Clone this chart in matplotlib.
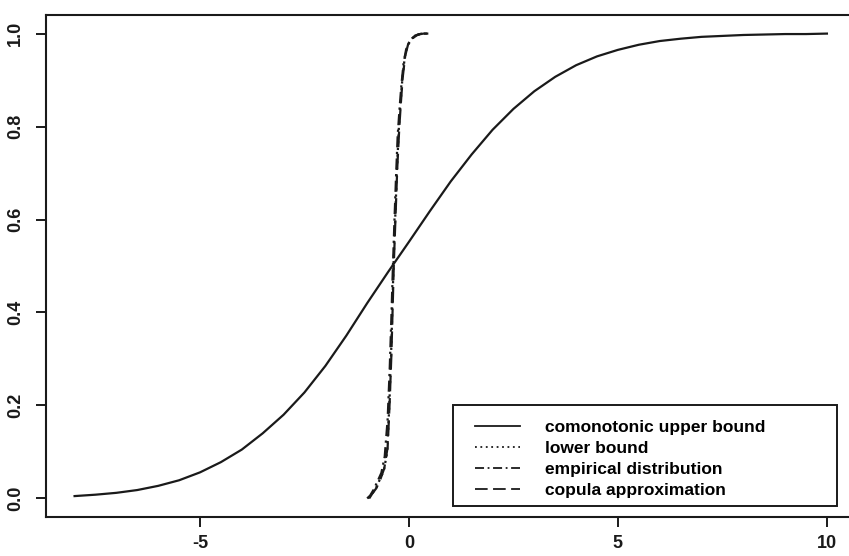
import matplotlib
matplotlib.use("Agg")
import matplotlib.pyplot as plt
from matplotlib.patches import Rectangle

# ── data ────────────────────────────────────────────────
# comonotonic upper bound (wide S-curve)
upper_x = [-8, -7.5, -7, -6.5, -6, -5.5, -5, -4.5, -4, -3.5, -3, -2.5, -2, -1.5,
           -1, -0.5, 0, 0.5, 1, 1.5, 2, 2.5, 3, 3.5, 4, 4.5, 5, 5.5, 6, 6.5,
           7, 7.5, 8, 8.5, 9, 9.5, 10]
upper_y = [0.005, 0.008, 0.012, 0.018, 0.027, 0.039, 0.056, 0.078, 0.105, 0.140,
           0.180, 0.228, 0.285, 0.350, 0.420, 0.487, 0.552, 0.618, 0.682, 0.740,
           0.793, 0.838, 0.876, 0.907, 0.932, 0.951, 0.965, 0.976, 0.984, 0.989,
           0.993, 0.995, 0.997, 0.998, 0.999, 0.999, 1.0]

# lower bound (steep)
lower_x = [-0.98, -0.9, -0.8, -0.7, -0.6, -0.52, -0.47, -0.43, -0.40, -0.37,
           -0.33, -0.29, -0.24, -0.20, -0.16, -0.10, -0.03, 0.08, 0.20, 0.30, 0.45]
lower_y = [0.0, 0.008, 0.02, 0.04, 0.06, 0.10, 0.20, 0.30, 0.40, 0.50,
           0.60, 0.70, 0.80, 0.85, 0.90, 0.95, 0.975, 0.99, 0.997, 1.0, 1.0]

# empirical distribution (steep, a little ragged)
emp_x = [-1.0, -0.93, -0.85, -0.76, -0.66, -0.58, -0.51, -0.46, -0.42, -0.39,
         -0.35, -0.31, -0.27, -0.22, -0.18, -0.13, -0.07, 0.02, 0.15, 0.30, 0.50]
emp_y = [0.0, 0.006, 0.018, 0.035, 0.055, 0.09, 0.17, 0.28, 0.39, 0.48,
         0.59, 0.69, 0.78, 0.845, 0.89, 0.935, 0.965, 0.985, 0.996, 1.0, 1.0]

# copula approximation (steep)
cop_x = [-0.95, -0.88, -0.78, -0.68, -0.59, -0.51, -0.46, -0.42, -0.39, -0.36,
         -0.32, -0.28, -0.23, -0.19, -0.15, -0.09, -0.02, 0.10, 0.22, 0.35, 0.55]
cop_y = [0.0, 0.01, 0.022, 0.042, 0.065, 0.11, 0.21, 0.31, 0.41, 0.51,
         0.61, 0.71, 0.80, 0.855, 0.905, 0.952, 0.977, 0.991, 0.998, 1.0, 1.0]

x_ticks = [-5, 0, 5, 10]
y_ticks = [0.0, 0.2, 0.4, 0.6, 0.8, 1.0]
y_tick_labels = ["0.0", "0.2", "0.4", "0.6", "0.8", "1.0"]

labels = ["comonotonic upper bound", "lower bound",
          "empirical distribution", "copula approximation"]

plt.rcParams["font.family"] = ["Liberation Sans", "DejaVu Sans"]

INK = "#1a1a1a"
W, H = 849, 556

# ── figure ──────────────────────────────────────────────
fig = plt.figure(figsize=(W / 100, H / 100), dpi=100)
ax = fig.add_axes([46 / W, 1 - 517 / H, (857 - 46) / W, (517 - 15) / H])

ax.plot(upper_x, upper_y, color=INK, linewidth=1.6, linestyle="-", label=labels[0])
ax.plot(lower_x, lower_y, color=INK, linewidth=1.6, linestyle=(0, (1, 2)), label=labels[1])
ax.plot(emp_x, emp_y, color=INK, linewidth=1.6, linestyle=(0, (5, 2, 1, 2)), label=labels[2])
ax.plot(cop_x, cop_y, color=INK, linewidth=1.6, linestyle=(0, (7, 3)), label=labels[3])

ax.set_xlim(-8.684, 10.72)
ax.set_ylim(-0.04, 1.04)

ax.set_xticks(x_ticks)
ax.set_xticklabels([str(t) for t in x_ticks])
ax.set_yticks(y_ticks)
ax.set_yticklabels(y_tick_labels, rotation=90, va="center")
ax.tick_params(axis="both", direction="out", length=7, width=1.4, colors=INK,
               labelsize=13)
ax.tick_params(axis="x", pad=6)
ax.tick_params(axis="y", pad=9)
for lab in ax.get_xticklabels() + ax.get_yticklabels():
    lab.set_fontweight("bold")

# box runs off the right edge of the picture
ax.spines["right"].set_visible(False)
for side in ["left", "bottom", "top"]:
    ax.spines[side].set_linewidth(1.5)
    ax.spines[side].set_color(INK)

# ── legend (R style: box drawn on its own, wider than the text) ──
ax.add_patch(Rectangle((453 / W, 1 - 506 / H), (837 - 453) / W, (506 - 405) / H,
                       transform=fig.transFigure, clip_on=False, fill=True,
                       facecolor="white", edgecolor=INK, linewidth=1.4, zorder=4))
leg = ax.legend(loc="upper left",
                bbox_to_anchor=(475 / W, 1 - 420 / H),
                bbox_transform=fig.transFigure, frameon=False,
                prop={"size": 12.5, "weight": "bold"},
                handlelength=2.6, handletextpad=1.45, labelspacing=0.33,
                borderpad=0, borderaxespad=0)
leg.set_zorder(5)
for line in leg.get_lines():
    line.set_linewidth(1.3)

fig.savefig("out.png", dpi=100)
